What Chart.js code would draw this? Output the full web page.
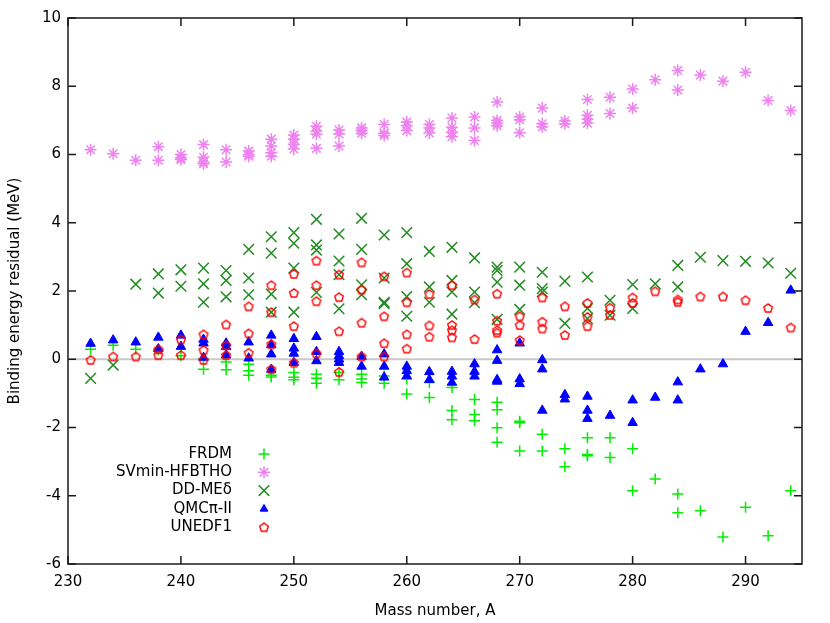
<!DOCTYPE html>
<html><head><meta charset="utf-8">
<script src="https://cdn.jsdelivr.net/npm/chart.js@4/dist/chart.umd.min.js"></script>
<style>html,body{margin:0;padding:0;background:#fff}</style>
</head><body>
<canvas id="c" width="830" height="623"></canvas>
<script>
// ---- axis ticks ----
const xTicks = [230, 240, 250, 260, 270, 280, 290];
const yTicks = [-6, -4, -2, 0, 2, 4, 6, 8, 10];
const seriesNames = ['FRDM', 'SVmin-HFBTHO', 'DD-MEδ', 'QMCπ-II', 'UNEDF1'];

// ---- FRDM ----
const massFRDM = [232,234,236,238,240,242,242,244,244,246,246,246,248,248,250,250,250,252,252,252,254,254,256,256,256,258,258,260,260,262,262,264,264,264,266,266,266,268,268,268,268,270,270,270,272,272,274,274,276,276,276,278,278,280,280,282,284,284,286,288,290,292,294];
const resFRDM  = [0.29,0.41,0.29,0.27,0.10,0.00,-0.29,-0.08,-0.31,-0.15,-0.34,-0.47,-0.47,-0.52,-0.39,-0.53,-0.60,-0.44,-0.56,-0.70,-0.39,-0.60,-0.44,-0.58,-0.68,-0.49,-0.70,-0.58,-1.02,-0.68,-1.12,-0.83,-1.50,-1.77,-1.18,-1.62,-1.80,-1.26,-1.48,-2.01,-2.43,-1.82,-1.86,-2.69,-2.20,-2.69,-2.62,-3.15,-2.30,-2.79,-2.83,-2.30,-2.88,-2.62,-3.85,-3.51,-3.95,-4.50,-4.44,-5.21,-4.34,-5.17,-3.85];

// ---- SVmin-HFBTHO ----
const massSV = [232,234,236,238,238,240,240,240,242,242,242,242,244,244,246,246,246,248,248,248,248,250,250,250,250,252,252,252,252,254,254,254,256,256,256,258,258,258,260,260,260,262,262,262,264,264,264,264,266,266,266,268,268,268,268,270,270,270,272,272,272,274,274,276,276,276,276,278,278,280,280,282,284,284,286,288,290,292,294];
const resSV  = [6.14,6.02,5.83,6.23,5.83,6.00,5.90,5.85,6.29,5.92,5.78,5.73,6.14,5.78,6.10,6.00,5.95,6.45,6.25,6.05,5.95,6.57,6.45,6.30,6.16,6.83,6.68,6.60,6.18,6.72,6.60,6.25,6.78,6.70,6.62,6.88,6.62,6.56,6.95,6.85,6.70,6.88,6.78,6.63,7.07,6.80,6.65,6.52,7.10,6.78,6.41,7.54,7.00,6.92,6.84,7.10,7.02,6.64,7.36,6.90,6.81,6.98,6.90,7.61,7.15,7.03,6.92,7.68,7.20,7.92,7.36,8.19,8.46,7.89,8.33,8.15,8.41,7.58,7.29];

// ---- DD-MEδ ----
const massDD = [232,234,236,238,238,240,240,242,242,242,244,244,244,246,246,246,248,248,248,248,250,250,250,250,252,252,252,252,254,254,254,254,256,256,256,256,258,258,258,258,260,260,260,260,262,262,262,264,264,264,264,266,266,266,268,268,268,268,270,270,270,272,272,272,274,274,276,276,276,278,278,280,280,282,284,284,286,288,290,292,294];
const resDD  = [-0.56,-0.17,2.20,2.50,1.94,2.62,2.14,2.67,2.21,1.67,2.60,2.31,1.83,3.22,2.38,1.89,3.59,3.11,1.91,1.38,3.71,3.40,2.67,1.38,4.10,3.35,3.20,1.96,3.67,2.88,2.48,1.48,4.13,3.22,2.18,1.89,3.64,2.38,1.67,1.63,3.71,2.80,1.84,1.26,3.16,2.12,1.67,3.28,2.31,1.97,1.32,2.97,1.97,1.66,2.70,2.60,2.26,1.17,2.70,2.17,1.46,2.55,2.07,1.97,2.29,1.05,2.41,1.49,1.19,1.73,1.29,2.19,1.49,2.21,2.75,2.12,2.99,2.89,2.87,2.82,2.52];

// ---- QMCπ-II ----
const massQMC = [232,234,236,238,238,240,240,242,242,242,244,244,244,246,246,248,248,248,248,250,250,250,250,252,252,252,254,254,254,254,256,256,258,258,258,260,260,260,262,262,264,264,264,266,266,266,268,268,268,268,270,270,270,272,272,272,274,274,276,276,276,278,280,280,282,284,284,286,288,290,292,294];
const resQMC  = [0.46,0.56,0.50,0.64,0.30,0.70,0.37,0.58,0.47,0.05,0.47,0.37,0.12,0.50,0.03,0.70,0.42,0.15,-0.30,0.60,0.32,0.17,-0.10,0.66,0.22,-0.05,0.22,0.10,0.00,-0.10,0.08,-0.21,0.15,-0.21,-0.53,-0.21,-0.34,-0.49,-0.37,-0.60,-0.36,-0.50,-0.68,-0.14,-0.36,-0.50,0.27,-0.04,-0.60,-0.65,0.47,-0.58,-0.72,-0.02,-0.29,-1.50,-1.04,-1.17,-1.09,-1.50,-1.74,-1.65,-1.20,-1.86,-1.12,-0.67,-1.20,-0.29,-0.14,0.81,1.07,2.02];

// ---- UNEDF1 ----
const massUN = [232,234,236,238,238,240,240,242,242,242,244,244,244,246,246,246,248,248,248,248,250,250,250,250,252,252,252,252,254,254,254,254,256,256,256,256,258,258,258,258,260,260,260,260,262,262,262,264,264,264,264,266,266,268,268,268,268,270,270,270,272,272,272,274,274,276,276,276,278,278,280,280,282,284,284,286,288,290,292,294];
const resUN  = [-0.02,0.08,0.08,0.29,0.12,0.58,0.12,0.73,0.27,-0.02,1.02,0.41,0.12,1.55,0.76,0.19,2.17,1.38,0.44,-0.29,2.50,1.94,0.97,-0.10,2.89,2.17,1.70,0.17,2.48,1.82,0.82,-0.37,2.84,2.04,1.07,0.08,2.43,1.26,0.47,0.08,2.54,1.67,0.73,0.31,1.91,0.99,0.66,2.17,1.00,0.85,0.64,1.75,0.59,1.92,1.13,0.85,0.78,1.26,1.00,0.56,1.81,1.10,0.90,1.55,0.71,1.65,1.24,0.97,1.51,1.30,1.81,1.65,1.99,1.75,1.68,1.84,1.84,1.73,1.50,0.93];

function pts(xs, ys) { return xs.map((x, i) => ({ x: x, y: ys[i] })); }

function pentagon(color) {
  const c = document.createElement('canvas');
  c.width = 12; c.height = 12;
  const g = c.getContext('2d');
  g.strokeStyle = color; g.lineWidth = 1.4;
  g.beginPath();
  for (let i = 0; i < 5; i++) {
    const a = -Math.PI / 2 + i * 2 * Math.PI / 5;
    const px = 6 + 4.5 * Math.cos(a), py = 6.4 + 4.5 * Math.sin(a);
    if (i) g.lineTo(px, py); else g.moveTo(px, py);
  }
  g.closePath(); g.stroke();
  return c;
}

Chart.defaults.font.family = '"DejaVu Sans", sans-serif';
Chart.defaults.font.size = 15;
Chart.defaults.color = '#000';

const datasets = [
  { label: seriesNames[0], data: pts(massFRDM, resFRDM), pointStyle: 'cross', radius: 5.5, borderColor: '#00ee00', backgroundColor: '#00ee00', borderWidth: 1.5, order: 5 },
  { label: seriesNames[1], data: pts(massSV, resSV), pointStyle: 'star', radius: 6, borderColor: '#ee82ee', backgroundColor: '#ee82ee', borderWidth: 1.5, order: 4 },
  { label: seriesNames[2], data: pts(massDD, resDD), pointStyle: 'crossRot', radius: 7.5, borderColor: '#228b22', backgroundColor: '#228b22', borderWidth: 1.5, order: 3 },
  { label: seriesNames[3], data: pts(massQMC, resQMC), pointStyle: 'triangle', radius: 5.5, borderColor: '#0000ff', backgroundColor: '#0000ff', borderWidth: 1, order: 2 },
  { label: seriesNames[4], data: pts(massUN, resUN), pointStyle: pentagon('#ff0000'), radius: 5.5, borderColor: '#ff0000', backgroundColor: 'rgba(0,0,0,0)', borderWidth: 1.4, order: 1 }
];

const framePlugin = {
  id: 'frame',
  beforeDatasetsDraw(chart) {
    const { ctx, chartArea: a, scales: { y } } = chart;
    const y0 = y.getPixelForValue(0);
    ctx.save();
    ctx.strokeStyle = '#c8c8c8'; ctx.lineWidth = 2;
    ctx.beginPath(); ctx.moveTo(a.left, y0); ctx.lineTo(a.right, y0); ctx.stroke();
    ctx.restore();
  },
  afterDatasetsDraw(chart) {
    const { ctx, chartArea: a, scales: { x, y } } = chart;
    ctx.save();
    ctx.strokeStyle = '#1a1a1a'; ctx.lineWidth = 1.5;
    ctx.strokeRect(a.left, a.top, a.right - a.left, a.bottom - a.top);
    const L = 8;
    ctx.beginPath();
    xTicks.forEach(v => {
      const px = x.getPixelForValue(v);
      ctx.moveTo(px, a.bottom); ctx.lineTo(px, a.bottom - L);
      ctx.moveTo(px, a.top); ctx.lineTo(px, a.top + L);
    });
    yTicks.forEach(v => {
      const py = y.getPixelForValue(v);
      ctx.moveTo(a.left, py); ctx.lineTo(a.left + L, py);
      ctx.moveTo(a.right, py); ctx.lineTo(a.right - L, py);
    });
    ctx.stroke();
    // legend
    const lx = 232, sx = 264, ly0 = 454, dy = 18.3;
    ctx.font = '15px "DejaVu Sans", sans-serif';
    ctx.textAlign = 'right'; ctx.textBaseline = 'middle';
    chart.data.datasets.forEach((ds, i) => {
      const yy = ly0 + i * dy;
      ctx.fillStyle = '#000';
      ctx.fillText(ds.label, lx, yy);
      ctx.strokeStyle = ds.borderColor; ctx.fillStyle = ds.backgroundColor;
      ctx.lineWidth = ds.borderWidth;
      const r = ds.pointStyle === 'triangle' ? 4.5 : ds.radius;
      Chart.helpers.drawPoint(ctx, { pointStyle: ds.pointStyle, radius: r, rotation: 0, borderWidth: ds.borderWidth }, sx, yy);
    });
    ctx.restore();
  }
};

new Chart(document.getElementById('c'), {
  type: 'scatter',
  data: { datasets },
  options: {
    responsive: false,
    devicePixelRatio: 1,
    animation: false,
    layout: { padding: { top: 18, right: 28, left: 0, bottom: 0 } },
    plugins: { legend: { display: false }, tooltip: { enabled: false } },
    scales: {
      x: {
        type: 'linear', min: 230, max: 295,
        afterBuildTicks: s => { s.ticks = xTicks.map(v => ({ value: v })); },
        afterFit: s => { s.height = 59; },
        grid: { display: false, drawTicks: false },
        border: { display: false },
        ticks: { padding: 9, maxRotation: 0, color: '#000' },
        title: { display: true, text: 'Mass number, A', padding: { top: 4, bottom: 3 }, color: '#000' }
      },
      y: {
        type: 'linear', min: -6, max: 10,
        afterBuildTicks: s => { s.ticks = yTicks.map(v => ({ value: v })); },
        afterFit: s => { s.width = 68; },
        grid: { display: false, drawTicks: false },
        border: { display: false },
        ticks: { padding: 7, color: '#000' },
        title: { display: true, text: 'Binding energy residual (MeV)', padding: { top: 6, bottom: 6 }, color: '#000' }
      }
    }
  },
  plugins: [framePlugin]
});
</script>
</body></html>
